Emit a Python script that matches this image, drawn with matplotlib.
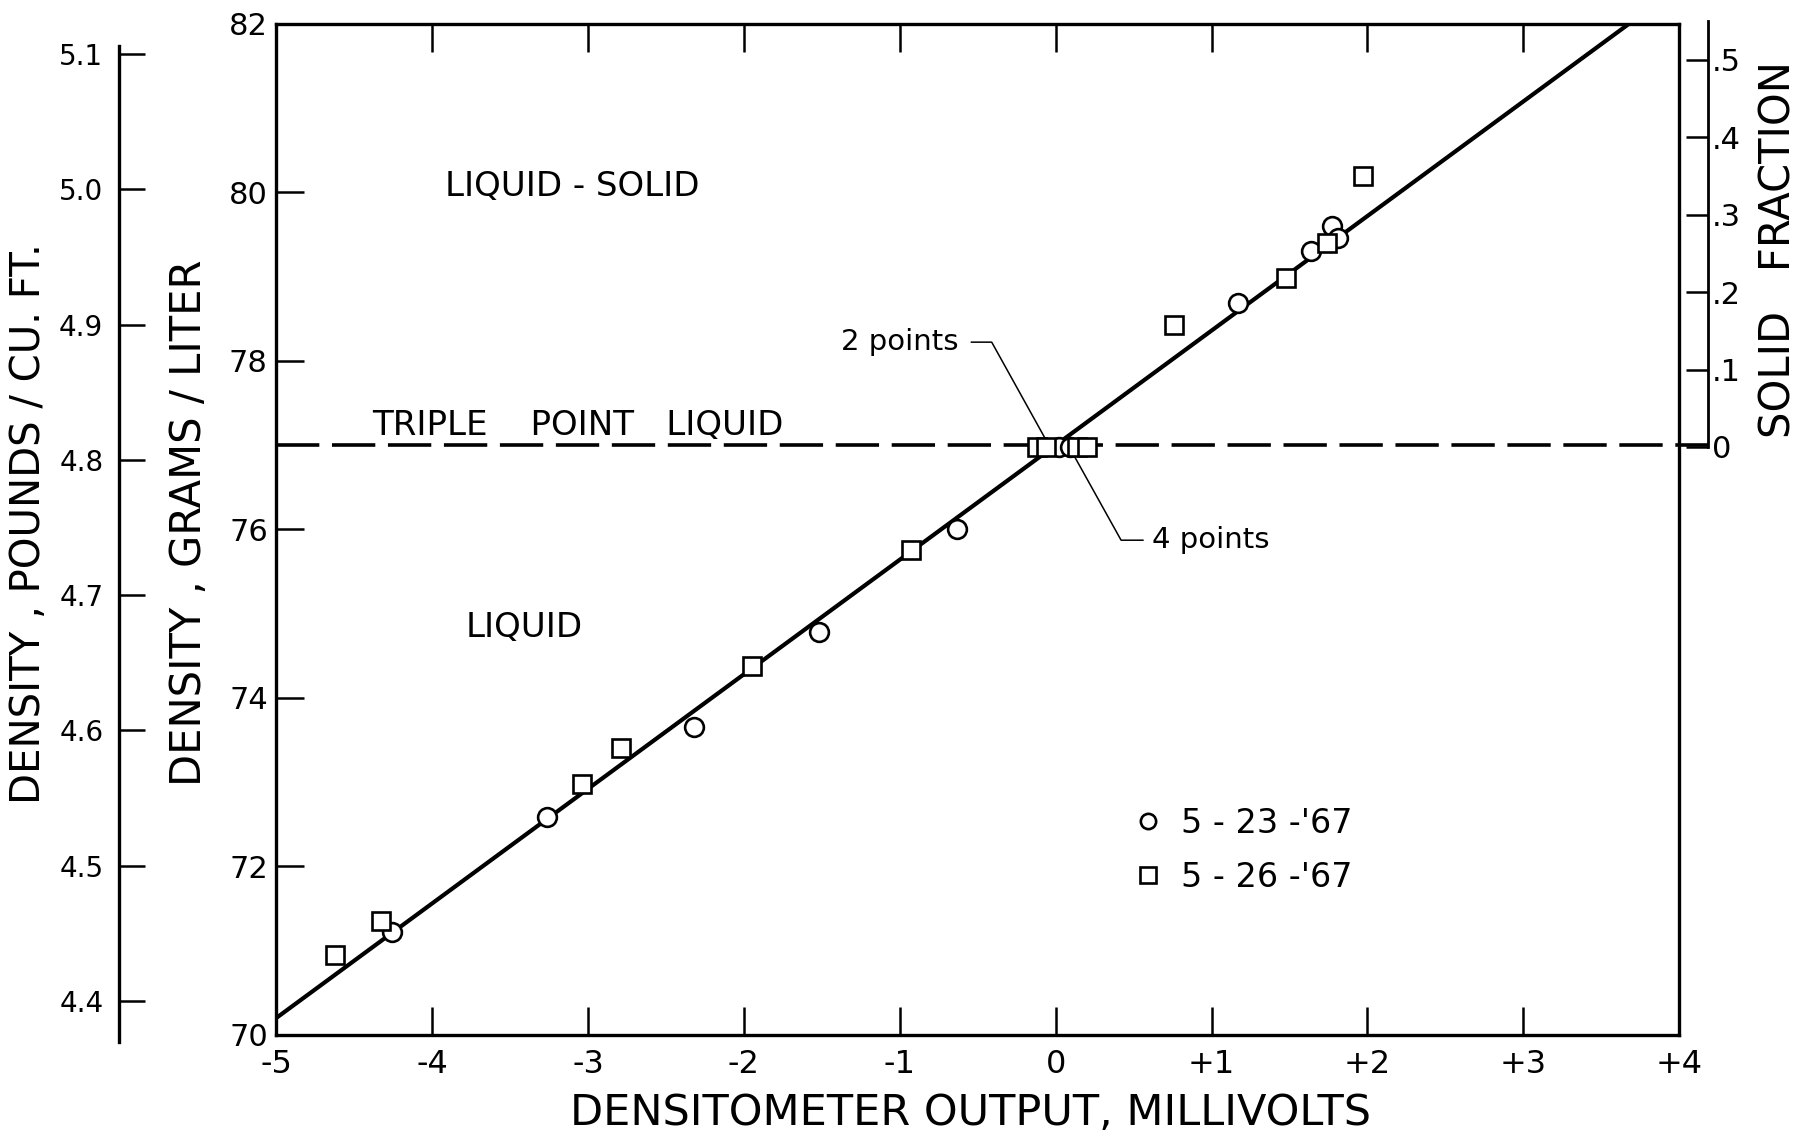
import matplotlib.pyplot as plt
from matplotlib.lines import Line2D

# densitometer output (mV) vs density (g/L)
circle_mv = [-4.26, -3.26, -2.32, -1.52, -0.63, 0.02, 0.09, 1.17, 1.64, 1.77, 1.81]
circle_gl = [71.22, 72.59, 73.65, 74.78, 76.00, 76.97, 76.97, 78.69, 79.30, 79.60, 79.45]

square_mv = [-4.62, -4.33, -3.04, -2.79, -1.95, -0.93, -0.12, -0.06, 0.14, 0.20, 0.76, 1.48, 1.74, 1.97]
square_gl = [70.95, 71.35, 72.98, 73.41, 74.38, 75.75, 76.98, 76.98, 76.98, 76.98, 78.42, 78.98, 79.40, 80.19]

fit_mv = [-5.0, 3.68]
fit_gl = [70.2, 82.0]
triple_point = 77.0

x_ticks = [-5, -4, -3, -2, -1, 0, 1, 2, 3, 4]
x_labels = ['-5', '-4', '-3', '-2', '-1', '0', '+1', '+2', '+3', '+4']
gl_ticks = [70, 72, 74, 76, 78, 80, 82]
lb_ticks = [4.4, 4.5, 4.6, 4.7, 4.8, 4.9, 5.0, 5.1]
lb_labels = ['4.4', '4.5', '4.6', '4.7', '4.8', '4.9', '5.0', '5.1']
sf_ticks = [0, 0.1, 0.2, 0.3, 0.4, 0.5]
sf_labels = ['0', '.1', '.2', '.3', '.4', '.5']

fig = plt.figure(figsize=(18.04, 11.34), dpi=100)
ax = fig.add_axes([0.1531, 0.0874, 0.7777, 0.8918])

ax.plot(fit_mv, fit_gl, color='black', lw=3.0, zorder=3)
ax.axhline(triple_point, xmin=0, xmax=1.0206, color='black', lw=2.6,
           dashes=(12, 3.5), clip_on=False, zorder=2)
ax.plot(circle_mv, circle_gl, 'o', ms=13.5, mfc='white', mec='black', mew=1.9, zorder=4)
ax.plot(square_mv, square_gl, 's', ms=13.5, mfc='white', mec='black', mew=1.9, zorder=4)

ax.set_xlim(-5, 4)
ax.set_ylim(70, 82)
ax.set_xticks(x_ticks)
ax.set_xticklabels(x_labels, fontsize=23)
ax.set_yticks(gl_ticks)
ax.set_yticklabels([str(t) for t in gl_ticks], fontsize=22)
ax.tick_params(direction='in', length=20, width=1.8, top=True, right=True)
ax.tick_params(axis='x', pad=10)
ax.tick_params(axis='y', pad=6)
for s in ax.spines.values():
    s.set_linewidth(2.4)

ax.set_xlabel('DENSITOMETER OUTPUT, MILLIVOLTS', fontsize=31)
ax.xaxis.set_label_coords(0.495, -0.056)
ax.set_ylabel('DENSITY , GRAMS / LITER', fontsize=30)
ax.yaxis.set_label_coords(-0.047, 0.506)

# region labels
ax.text(-3.915, 79.96, 'LIQUID - SOLID', fontsize=24.5, va='baseline')
ax.text(-4.387, 77.12, 'TRIPLE    POINT   LIQUID', fontsize=24.5, va='baseline')
ax.text(-3.782, 74.72, 'LIQUID', fontsize=24.5, va='baseline')

# leader notes
ax.text(-0.624, 78.22, '2 points', fontsize=21, ha='right', va='center')
ax.plot([-0.54, -0.41, -0.05], [78.22, 78.22, 77.02], color='black', lw=1.1)
ax.text(0.616, 75.87, '4 points', fontsize=21, ha='left', va='center')
ax.plot([0.56, 0.42, 0.11], [75.87, 75.87, 76.90], color='black', lw=1.1)

handles = [
    Line2D([], [], ls='none', marker='o', ms=11, mfc='white', mec='black', mew=1.9),
    Line2D([], [], ls='none', marker='s', ms=11, mfc='white', mec='black', mew=1.9),
]
ax.legend(handles, ["5 - 23 -'67", "5 - 26 -'67"], loc='center left',
          bbox_to_anchor=(0.6119, 0.1826), frameon=False, fontsize=24,
          borderpad=0, borderaxespad=0, handlelength=0.8, handletextpad=0.6,
          labelspacing=0.63)

# pounds / cu ft scale on the far left
ax_lb = ax.twinx()
ax_lb.set_ylim(4.375, 5.1225)
for k in ['right', 'top', 'bottom']:
    ax_lb.spines[k].set_visible(False)
ax_lb.spines['left'].set_visible(True)
ax_lb.spines['left'].set_position(('axes', -0.1123))
ax_lb.spines['left'].set_bounds(4.37, 5.106)
ax_lb.spines['left'].set_linewidth(2.4)
ax_lb.yaxis.set_ticks_position('left')
ax_lb.yaxis.set_label_position('left')
ax_lb.set_yticks(lb_ticks)
ax_lb.set_yticklabels(lb_labels, fontsize=20)
ax_lb.tick_params(axis='y', direction='in', length=19, width=1.8, pad=11)
ax_lb.set_ylabel('DENSITY , POUNDS / CU. FT.', fontsize=29)
ax_lb.yaxis.set_label_coords(-0.162, 0.506)

# solid fraction scale on the right
ax_sf = ax.twinx()
ax_sf.set_ylim(-0.7596, 0.547)
for k in ['left', 'top', 'bottom']:
    ax_sf.spines[k].set_visible(False)
ax_sf.spines['right'].set_position(('axes', 1.0206))
ax_sf.spines['right'].set_bounds(0, 0.55)
ax_sf.spines['right'].set_linewidth(2.0)
ax_sf.set_yticks(sf_ticks)
ax_sf.set_yticklabels(sf_labels, fontsize=22)
ax_sf.tick_params(axis='y', direction='in', length=16, width=1.8, pad=3)
ax_sf.set_ylabel('SOLID   FRACTION', fontsize=30)
ax_sf.yaxis.set_label_coords(1.056, 0.777)

fig.savefig('out.png', dpi=100)
